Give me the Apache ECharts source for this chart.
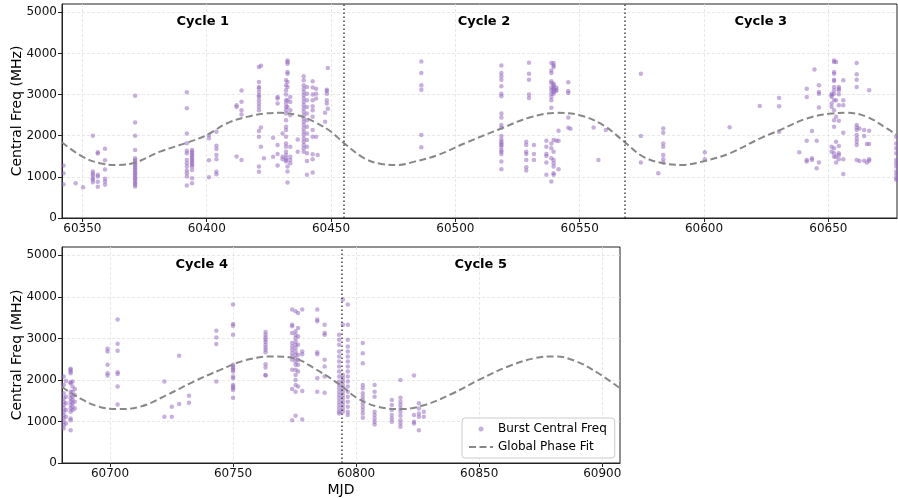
<!DOCTYPE html>
<html><head><meta charset="utf-8">
<script src="https://cdn.jsdelivr.net/npm/echarts@6/dist/echarts.min.js"></script>
<style>html,body{margin:0;padding:0;background:#fff}#c{width:898px;height:498px}</style>
</head><body><div id="c"></div>
<script>
// ---- Data ----
const topDays = [60342.4, 60347.3, 60350.3, 60354.2, 60356.2, 60359.1, 60371.2, 60392.0, 60394.1, 60400.9, 60403.9, 60412.0, 60414.0, 60421.0, 60421.8, 60423.0, 60426.7, 60428.5, 60430.5, 60431.9, 60432.5, 60433.6, 60436.6, 60439.0, 60440.3, 60442.6, 60444.0, 60444.6, 60447.6, 60448.3, 60448.7, 60486.3, 60518.5, 60528.5, 60529.6, 60531.6, 60536.6, 60538.6, 60539.5, 60540.6, 60541.5, 60545.4, 60546.3, 60555.6, 60557.5, 60560.5, 60574.6, 60581.6, 60583.6, 60600.3, 60610.3, 60622.4, 60630.2, 60638.3, 60641.3, 60643.4, 60644.4, 60645.3, 60646.2, 60651.3, 60652.3, 60653.1, 60654.2, 60656.0, 60661.4, 60662.5, 60664.4, 60665.5, 60666.4, 60677.3];
const topFreqs = [
  [1274, 1089, 823],
  [847],
  [750],
  [2000, 1129, 1073, 1032, 968, 927, 871],
  [1597, 1565, 1048, 1008, 879, 758],
  [1685, 1403, 1177, 952, 887, 806],
  [2968, 2323, 2000, 1653, 1452, 1411, 1371, 1331, 1290, 1250, 1210, 1169, 1129, 1089, 1048, 1008, 968, 927, 887, 847, 806, 766],
  [3056, 2669, 2056, 1815, 1637, 1573, 1411, 1331, 1250, 1153, 1089, 1008, 790],
  [1653, 1613, 1573, 1532, 1492, 1452, 1411, 1371, 1331, 1290, 1250, 1169, 968, 847],
  [2016, 1935, 1403, 992],
  [2097, 1758, 1677, 1532, 1427, 1121, 1065],
  [2742, 2700, 1492],
  [3097, 2823, 2621, 2516, 1411],
  [3669, 3306, 3185, 3145, 3064, 2984, 2944, 2863, 2782, 2702, 2621, 2113, 1976, 1250, 1121],
  [3702, 2202, 1734],
  [1450],
  [1950, 1491],
  [2942, 2902, 2781, 1773, 1556, 1273],
  [2055, 1491, 1427],
  [3345, 3224, 3103, 2998, 2861, 2781, 2700, 2620, 2539, 2378, 2216, 2136, 1975, 1813, 1733, 1612, 1531, 1451, 1410, 1370],
  [3829, 3788, 3748, 3546, 3506, 3305, 3184, 2861, 2700, 1249, 1128, 862],
  [2942, 2821, 2620, 2499, 1733, 1491, 1410, 1330],
  [1910, 1612],
  [3442, 3345, 3224, 3143, 3063, 2982, 2902, 2821, 2740, 2660, 2579, 2499, 2418, 2337, 2257, 2176, 2096, 2015, 1934, 1854, 1773, 1693, 1612],
  [3184, 3022, 2861, 2700, 2539, 2378, 2216, 2055, 1894, 1733, 1572, 1386, 1048],
  [3321, 3168, 2998, 2861, 2716, 2620, 2458, 2136, 1975, 1547, 1427, 1104],
  [3143, 3022, 2902, 1975],
  [1531],
  [2555, 2337],
  [3119, 3087, 3022, 2861, 2781],
  [3643, 2652],
  [3804, 3522, 3224, 3119, 2015, 1717],
  [3708, 3522, 3442, 3361, 3200, 3022, 2958, 2539, 2442, 2257, 2192, 1991, 1910, 1854, 1813, 1773, 1733, 1652, 1612, 1555, 1370, 1185],
  [1854, 1773, 1612, 1555, 1410, 1233, 1152],
  [3772, 3506, 3361, 2998, 2918],
  [1773, 1555, 1410],
  [1878, 1733, 1555, 1507, 1346, 1048],
  [3764, 3587, 3522, 3321, 3281, 3168, 3103, 3022, 2942, 2861, 2676, 1813, 1693, 1451, 886],
  [3764, 3708, 3667, 3265, 3224, 3184, 3143, 3103, 3063, 3022, 1894, 1612, 1410, 1330, 1249, 1088, 1048],
  [3168, 3119, 3087, 1878],
  [2120, 1878, 1185],
  [3297, 3087, 3039, 2442, 2192],
  [2168],
  [2200],
  [1410],
  [2136],
  [3506, 1991, 1346],
  [1088],
  [2176, 2071, 1813, 1733, 1531, 1427, 1346],
  [1596, 1426],
  [2208],
  [2724],
  [2918, 2716, 2095],
  [1596],
  [3143, 2942, 1878, 1410, 1370],
  [2111, 1410, 1451],
  [3611],
  [1878, 1209],
  [3224, 3063, 3022, 2684, 1346],
  [3022, 2982, 2942, 2781, 2700, 1733, 1612],
  [3829, 3788, 3546, 3506, 3361, 3329, 3184, 3103, 3022, 2861, 2620, 2378, 2216, 1693, 1571, 1491],
  [3788, 2861, 2458, 1854, 1491, 1346],
  [3184, 3143, 3103, 3006, 2740, 2362, 1749, 1571, 1531, 1426],
  [3345, 2861, 2740, 2071, 1426, 1072],
  [3764, 3490, 3361, 3184, 2257, 2200, 2136, 2015, 1934, 1854, 1773, 1410],
  [2176, 1386],
  [2136, 1991, 1394],
  [1797, 1346],
  [3103, 2120, 1797, 1426, 1394],
  [1975, 1813, 1693, 1571, 1410, 1330, 1249, 1128, 1048, 967, 927]
];
const bottomDays = [60681.2, 60682.1, 60684.0, 60684.8, 60685.7, 60699.0, 60703.1, 60722.1, 60725.1, 60728.1, 60732.1, 60743.2, 60750.0, 60763.2, 60774.0, 60775.4, 60776.4, 60778.1, 60784.2, 60787.2, 60793.1, 60794.6, 60796.6, 60802.7, 60807.5, 60814.5, 60818.0, 60823.5, 60825.5, 60827.5];
const bottomFreqs = [
  [2081, 1879, 1677, 1557, 1476, 1395, 1315, 1234, 1153, 1073, 992, 911, 831],
  [1976, 1597, 1436, 1274, 1113, 952],
  [2266, 2242, 2202, 2161, 1944, 1919, 1718, 1637, 1557, 1476, 1395, 1315, 1234, 1073, 1032, 790],
  [1960, 1839, 1718, 1597, 1516, 1436, 1355, 1274],
  [1782, 1637, 1476, 1315],
  [2750, 2686, 2363, 2161, 2105],
  [3452, 2871, 2702, 2186, 2145, 1839, 1411],
  [1960, 1113],
  [1355, 1113],
  [2581, 1419],
  [1621, 1452],
  [3186, 3024, 2863, 1960],
  [3815, 3347, 3307, 3089, 2363, 2323, 2282, 2242, 2202, 2081, 2040, 1879, 1839, 1798, 1758, 1573],
  [3153, 3089, 3024, 2968, 2911, 2847, 2782, 2726, 2669, 2379, 2298, 2121, 2105],
  [3694, 3331, 3291, 3129, 2887, 2807, 2726, 2645, 2565, 2484, 2242, 1782, 1032],
  [3653, 3169, 3089, 3008, 2927, 2847, 2766, 2686, 2605, 2524, 2444, 2363, 2242, 2121, 2000, 1879, 1718, 1137],
  [3613, 3250, 3048, 2847, 2605, 2484, 2363, 2202, 1839],
  [3694, 2686, 2621, 1734, 1048],
  [3694, 3452, 3412, 2669, 2621, 2040, 1718],
  [3331, 3129, 3089, 2484, 2323, 2081, 1694],
  [3089, 2968, 2847, 2686, 2565, 2444, 2323, 2202, 2081, 1960, 1879, 1798, 1718, 1637, 1557, 1476, 1395, 1315, 1234, 1194],
  [3936, 3331, 2121, 2040, 1960, 1879, 1798, 1718, 1637, 1557, 1476, 1395, 1315, 1234],
  [3815, 3331, 2968, 2807, 2686, 2565, 2444, 2323, 2202, 2081, 1960, 1839, 1718, 1597, 1476, 1355, 1234, 1153],
  [2887, 2645, 2403, 1879, 1798, 1677, 1597, 1516, 1436, 1355, 1274, 1194, 1089],
  [1879, 1718, 1597, 1234, 1153, 1073, 992, 927],
  [1516, 1395, 1274, 1153, 1073, 992],
  [2000, 1573, 1476, 1395, 1315, 1234, 1137, 1032, 952, 871],
  [2105, 1153, 992, 952],
  [1436, 1315, 1194, 1113, 790],
  [1234, 1113]
];
const fitTopDays = [60341.8, 60350, 60357.1, 60363.8, 60371.2, 60381.2, 60392, 60400, 60408, 60416.1, 60423.5, 60429.8, 60436.6, 60443.3, 60450, 60455, 60463.4, 60470.2, 60476.9, 60483.6, 60493, 60504.5, 60518.5, 60529.8, 60540.6, 60550, 60559.4, 60567.9, 60575.5, 60583.6, 60591, 60600.3, 60610.3, 60622.4, 60630.5, 60641.3, 60651.3, 60657.4, 60665.5, 60673.5, 60677.6];
const fitTopVals = [1840, 1491, 1330, 1290, 1346, 1612, 1830, 2015, 2297, 2458, 2539, 2555, 2499, 2337, 2096, 1830, 1451, 1314, 1290, 1370, 1531, 1835, 2176, 2442, 2555, 2499, 2257, 1854, 1491, 1330, 1290, 1386, 1571, 1930, 2136, 2418, 2539, 2555, 2458, 2176, 2015];
const fitBottomDays = [60680.5, 60687.8, 60694.6, 60702.7, 60712.2, 60723.1, 60734, 60744.8, 60755.7, 60766.6, 60774.7, 60782.9, 60793.5, 60800, 60808.8, 60818.3, 60827.8, 60838.7, 60849.9, 60861.7, 60872.6, 60880.7, 60888.9, 60898.4, 60907.2];
const fitBottomVals = [1830, 1557, 1371, 1298, 1355, 1637, 1960, 2242, 2484, 2565, 2524, 2282, 1880, 1580, 1355, 1298, 1395, 1661, 2000, 2323, 2524, 2565, 2460, 2161, 1800];
const cycleBoundariesTop = [60455, 60568];
const cycleBoundariesBottom = [60794];
const cycleNamesTop = ['Cycle 1', 'Cycle 2', 'Cycle 3'];
const cycleNamesBottom = ['Cycle 4', 'Cycle 5'];
const topRange = [60341.8, 60677.6];
const bottomRange = [60680.5, 60907.2];
const topTicks = [60350, 60400, 60450, 60500, 60550, 60600, 60650];
const bottomTicks = [60700, 60750, 60800, 60850, 60900];
const freqTicks = [0, 1000, 2000, 3000, 4000, 5000];
const freqMax = 5200;
const cycleLabelFreq = 4770;

// ---- Build ----
const FONT = 'DejaVu Sans';
const PURPLE = 'rgba(148,103,189,0.65)';
function flatten(days, freqs) {
  const out = [];
  days.forEach((d, i) => freqs[i].forEach(f => out.push([d, f])));
  return out;
}
function zip(a, b) { return a.map((v, i) => [v, b[i]]); }
function cycleLabels(range, bounds, names) {
  const edges = [range[0], ...bounds, range[1]];
  return names.map((n, i) => ({ name: n, value: [(edges[i] + edges[i + 1]) / 2, cycleLabelFreq] }));
}
function xAxis(idx, range, ticks, name) {
  return {
    type: 'value', gridIndex: idx, min: range[0], max: range[1],
    name: name || '', nameLocation: 'middle', nameGap: 20, nameMoveOverlap: false,
    nameTextStyle: { fontFamily: FONT, fontSize: 14, color: '#000' },
    axisLine: { show: true, lineStyle: { color: '#222', width: 1 } },
    axisTick: { show: true, length: 4, customValues: ticks, lineStyle: { color: '#222' } },
    axisLabel: { customValues: ticks, fontFamily: FONT, fontSize: 12, color: '#111', margin: 5, formatter: v => String(v) },
    splitLine: { show: true, lineStyle: { color: '#e2e2e2', type: [3, 2], width: 0.8 } }
  };
}
function yAxis(idx) {
  return {
    type: 'value', gridIndex: idx, min: 0, max: freqMax,
    name: 'Central Freq (MHz)', nameLocation: 'middle', nameGap: 38, nameRotate: 90, nameMoveOverlap: false,
    nameTextStyle: { fontFamily: FONT, fontSize: 14, color: '#000' },
    axisLine: { show: true, lineStyle: { color: '#222', width: 1 } },
    axisTick: { show: true, length: 4, customValues: freqTicks, lineStyle: { color: '#222' } },
    axisLabel: { customValues: freqTicks, fontFamily: FONT, fontSize: 12, color: '#111', margin: 5, formatter: v => String(v) },
    splitLine: { show: true, lineStyle: { color: '#e2e2e2', type: [3, 2], width: 0.8 } }
  };
}
function dividers(bounds) {
  return {
    silent: true, symbol: ['none', 'none'], animation: false,
    label: { show: false },
    lineStyle: { color: '#444', type: [1.5, 2.5], width: 1.5 },
    emphasis: { disabled: true },
    data: bounds.map(b => ({ xAxis: b }))
  };
}
const labelSeries = (idx, data) => ({
  type: 'scatter', xAxisIndex: idx, yAxisIndex: idx, symbolSize: 0, silent: true, z: 10,
  data: data,
  label: { show: true, position: 'inside', formatter: p => p.name, fontFamily: FONT, fontWeight: 'bold', fontSize: 13, color: '#000', opacity: 1 }
});
const gridBase = { show: true, borderColor: '#222', borderWidth: 1, backgroundColor: 'transparent', containLabel: false, outerBoundsMode: 'none' };

const option = {
  animation: false,
  backgroundColor: '#fff',
  grid: [
    Object.assign({ left: 62, top: 4, width: 835, height: 214 }, gridBase),
    Object.assign({ left: 62, top: 247, width: 558, height: 216 }, gridBase)
  ],
  xAxis: [xAxis(0, topRange, topTicks), xAxis(1, bottomRange, bottomTicks, 'MJD')],
  yAxis: [yAxis(0), yAxis(1)],
  legend: {
    orient: 'vertical', left: 462, top: 418,
    padding: [5, 8, 5, 6], itemGap: 6, itemWidth: 24, itemHeight: 5,
    borderColor: '#cccccc', borderWidth: 1, borderRadius: 3,
    backgroundColor: 'rgba(255,255,255,0.8)',
    textStyle: { fontFamily: FONT, fontSize: 12, color: '#000' },
    data: [
      { name: 'Burst Central Freq', icon: 'circle' },
      { name: 'Global Phase Fit', itemStyle: { opacity: 0 } }
    ]
  },
  series: [
    { name: 'Burst Central Freq', type: 'scatter', xAxisIndex: 0, yAxisIndex: 0, symbolSize: 4.5,
      itemStyle: { color: PURPLE }, data: flatten(topDays, topFreqs), markLine: dividers(cycleBoundariesTop) },
    { name: 'Burst Central Freq', type: 'scatter', xAxisIndex: 1, yAxisIndex: 1, symbolSize: 4.5,
      itemStyle: { color: PURPLE }, data: flatten(bottomDays, bottomFreqs), markLine: dividers(cycleBoundariesBottom) },
    { name: 'Global Phase Fit', type: 'line', xAxisIndex: 0, yAxisIndex: 0, symbol: 'none', smooth: 0.4,
      lineStyle: { color: '#888', width: 2, type: [7, 3.5] }, itemStyle: { color: '#888' }, data: zip(fitTopDays, fitTopVals) },
    { name: 'Global Phase Fit', type: 'line', xAxisIndex: 1, yAxisIndex: 1, symbol: 'none', smooth: 0.4,
      lineStyle: { color: '#888', width: 2, type: [7, 3.5] }, itemStyle: { color: '#888' }, data: zip(fitBottomDays, fitBottomVals) },
    labelSeries(0, cycleLabels(topRange, cycleBoundariesTop, cycleNamesTop)),
    labelSeries(1, cycleLabels(bottomRange, cycleBoundariesBottom, cycleNamesBottom))
  ]
};
const chart = echarts.init(document.getElementById('c'), null, { renderer: 'canvas' });
chart.setOption(option);
</script></body></html>
